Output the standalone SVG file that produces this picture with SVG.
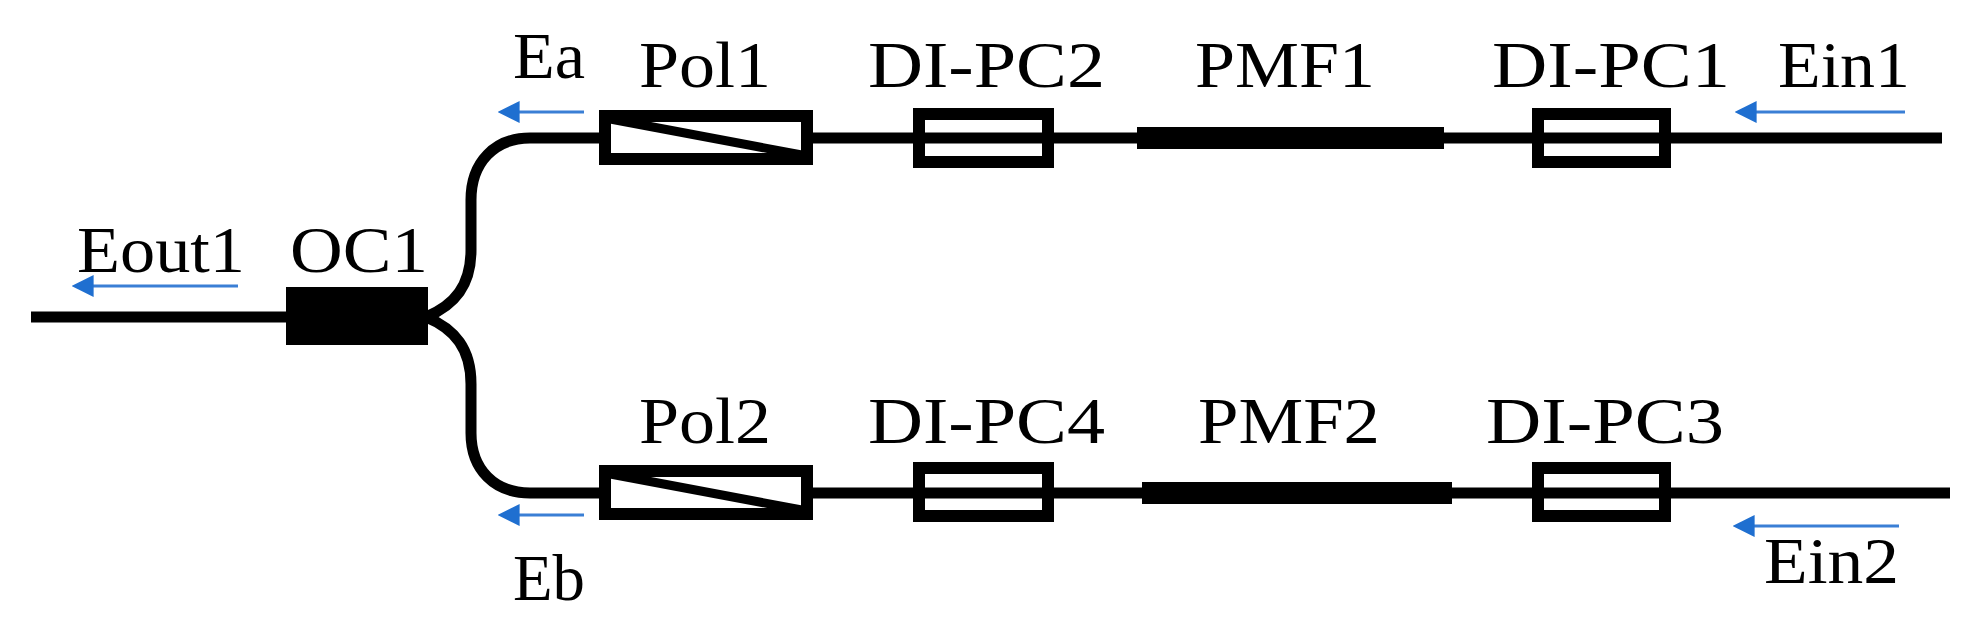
<svg xmlns="http://www.w3.org/2000/svg" width="1977" height="631" viewBox="0 0 1977 631">
<defs>
<style>
.f{fill:none;stroke:#000;stroke-width:11}
.b{fill:#fff;stroke:#000;stroke-width:12}
.a{stroke:#3a7fd5;stroke-width:3;fill:none}
text{font-family:"Liberation Serif","Times New Roman",serif;font-size:66px;fill:#000}
</style>
<marker id="ah" viewBox="0 0 10 10" refX="8" refY="5" markerWidth="22" markerHeight="22" markerUnits="userSpaceOnUse" orient="auto"><path d="M0,0L10,5L0,10z" fill="#1f6fd0"/></marker>
</defs>
<g id="connectors">
<path class="f" d="M31,317H290"/>
<path class="f" d="M426,317C455,305 471,285 471,250V200C471,162 495,138 530,138H1942"/>
<path class="f" d="M426,317C455,329 471,349 471,384V433C471,470 495,493 530,493H1950"/>
<rect x="1137" y="127" width="307" height="22" fill="#000"/>
<rect x="1142" y="482" width="310" height="22" fill="#000"/>
</g>
<g id="OC1"><rect x="286" y="287" width="142" height="58" fill="#000"/><text x="290" y="272" textLength="138" lengthAdjust="spacingAndGlyphs">OC1</text></g>
<g id="Pol1"><rect class="b" x="605" y="116" width="202" height="43"/><path d="M605,118L807,156" stroke="#000" stroke-width="9"/><text x="639" y="87" textLength="132" lengthAdjust="spacingAndGlyphs">Pol1</text></g>
<g id="Pol2"><rect class="b" x="605" y="471" width="202" height="43"/><path d="M605,473L807,511" stroke="#000" stroke-width="9"/><text x="639" y="443" textLength="132" lengthAdjust="spacingAndGlyphs">Pol2</text></g>
<g id="DI-PC2"><rect class="b" x="919" y="114" width="129" height="48"/><path class="f" d="M919,138H1048"/><text x="868" y="87" textLength="237" lengthAdjust="spacingAndGlyphs">DI-PC2</text></g>
<g id="DI-PC1"><rect class="b" x="1538" y="114" width="127" height="48"/><path class="f" d="M1538,138H1665"/><text x="1492" y="87" textLength="238" lengthAdjust="spacingAndGlyphs">DI-PC1</text></g>
<g id="DI-PC4"><rect class="b" x="919" y="468" width="129" height="48"/><path class="f" d="M919,493H1048"/><text x="868" y="443" textLength="237" lengthAdjust="spacingAndGlyphs">DI-PC4</text></g>
<g id="DI-PC3"><rect class="b" x="1538" y="468" width="127" height="48"/><path class="f" d="M1538,493H1665"/><text x="1486" y="443" textLength="238" lengthAdjust="spacingAndGlyphs">DI-PC3</text></g>
<g id="PMF1"><text x="1195" y="87" textLength="180" lengthAdjust="spacingAndGlyphs">PMF1</text></g>
<g id="PMF2"><text x="1198" y="443" textLength="182" lengthAdjust="spacingAndGlyphs">PMF2</text></g>
<g id="labels">
<text x="513" y="78" textLength="72" lengthAdjust="spacingAndGlyphs">Ea</text>
<text x="513" y="600" textLength="72" lengthAdjust="spacingAndGlyphs">Eb</text>
<text x="77" y="272" textLength="168" lengthAdjust="spacingAndGlyphs">Eout1</text>
<text x="1778" y="87" textLength="132" lengthAdjust="spacingAndGlyphs">Ein1</text>
<text x="1764" y="583" textLength="135" lengthAdjust="spacingAndGlyphs">Ein2</text>
<path class="a" d="M238,286H76" marker-end="url(#ah)"/>
<path class="a" d="M584,112H502" marker-end="url(#ah)"/>
<path class="a" d="M584,515H502" marker-end="url(#ah)"/>
<path class="a" d="M1905,112H1739" marker-end="url(#ah)"/>
<path class="a" d="M1899,526H1737" marker-end="url(#ah)"/>
</g>
</svg>
